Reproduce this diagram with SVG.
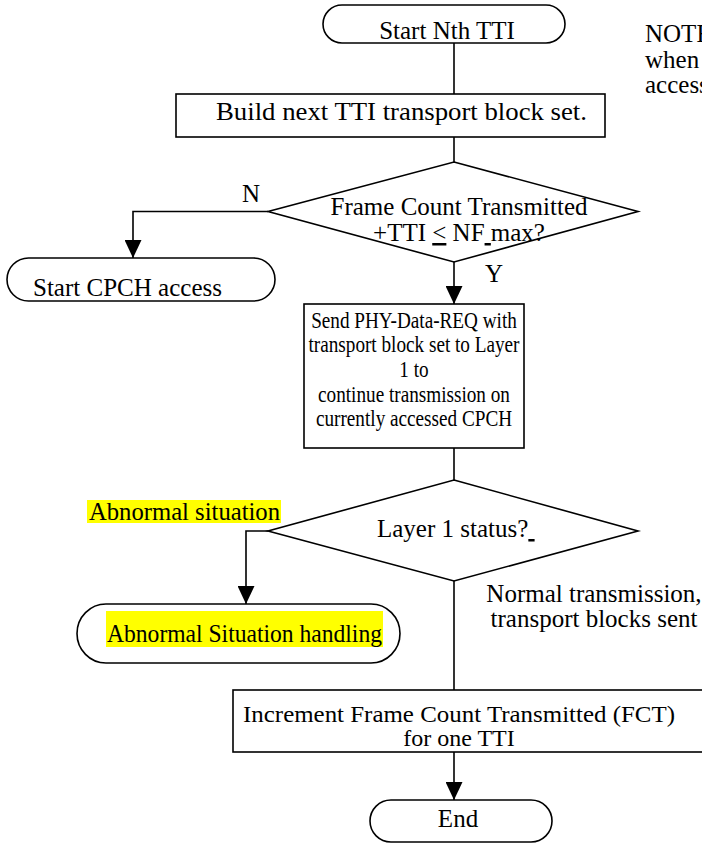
<svg xmlns="http://www.w3.org/2000/svg" width="702" height="843" viewBox="0 0 702 843">
<style>
text{font-family:"Liberation Serif","Times New Roman",serif;font-size:25px;fill:#000}
.shape{fill:#fff;stroke:#000;stroke-width:1.6}
.ln{fill:none;stroke:#000;stroke-width:1.6}
.hl{fill:#ffff00}
.u{text-decoration:underline}
.s24{font-size:24px}
</style>
<defs>
<marker id="arr" viewBox="0 0 18 17" refX="18" refY="8.5" markerWidth="18" markerHeight="17" orient="auto" markerUnits="userSpaceOnUse">
<path d="M0,0 L18,8.5 L0,17 Z" fill="#000"/>
</marker>
</defs>
<rect width="702" height="843" fill="#fff"/>
<g id="connectors">
<path class="ln" d="M454,43 V94"/>
<path class="ln" d="M454,137 V162"/>
<path class="ln" d="M268,211.5 H133 V258" marker-end="url(#arr)"/>
<path class="ln" d="M454,262 V304" marker-end="url(#arr)"/>
<path class="ln" d="M454,448 V480"/>
<path class="ln" d="M268,531 H246 V604" marker-end="url(#arr)"/>
<path class="ln" d="M454,581 V690"/>
<path class="ln" d="M454,752 V800" marker-end="url(#arr)"/>
<text x="242" y="202">N</text>
<text x="485" y="282">Y</text>
<rect class="hl" x="87" y="500" width="194" height="23"/>
<text x="89" y="520" textLength="191" lengthAdjust="spacingAndGlyphs">Abnormal situation</text>
<text x="594" y="602" text-anchor="middle">Normal transmission,</text>
<text x="594" y="627" text-anchor="middle">transport blocks sent</text>
</g>
<g id="start">
<rect class="shape" x="323" y="5" width="242" height="38" rx="19" ry="19"/>
<text x="447" y="39" text-anchor="middle">Start Nth TTI</text>
</g>
<g id="note">
<text x="645" y="42">NOTE</text>
<text x="645" y="68">when</text>
<text x="645" y="93">access</text>
</g>
<g id="build">
<rect class="shape" x="176" y="94" width="429" height="43"/>
<text x="216" y="120" textLength="371" lengthAdjust="spacingAndGlyphs">Build next TTI transport block set.</text>
</g>
<g id="decision1">
<polygon class="shape" points="454,162 638,211.5 454,262 268,211.5"/>
<text x="459" y="215" text-anchor="middle">Frame Count Transmitted</text>
<text x="459" y="241" text-anchor="middle">+TTI <tspan class="u">&lt;</tspan> NF<tspan class="u">&#160;</tspan>max?</text>
</g>
<g id="cpch">
<rect class="shape" x="7" y="258" width="268" height="43" rx="21.5" ry="21.5"/>
<text x="33" y="296" textLength="189" lengthAdjust="spacingAndGlyphs">Start CPCH access</text>
</g>
<g id="send">
<rect class="shape" x="304" y="304" width="220" height="144"/>
<g transform="translate(414,0) scale(0.8,1)">
<text class="s24" x="0" y="328" text-anchor="middle">Send PHY-Data-REQ with</text>
<text class="s24" x="0" y="352" text-anchor="middle">transport block set to Layer</text>
<text class="s24" x="0" y="377" text-anchor="middle">1 to</text>
<text class="s24" x="0" y="402" text-anchor="middle">continue transmission on</text>
<text class="s24" x="0" y="426" text-anchor="middle">currently accessed CPCH</text>
</g>
</g>
<g id="decision2">
<polygon class="shape" points="454,480 638,531 454,581 268,531"/>
<text x="377" y="537">Layer 1 status?<tspan class="u">&#160;</tspan></text>
</g>
<g id="abnormal">
<rect class="shape" x="77" y="604" width="323" height="59" rx="29" ry="29.5"/>
<rect class="hl" x="106" y="611" width="277" height="36"/>
<text x="107" y="642" textLength="275" lengthAdjust="spacingAndGlyphs">Abnormal Situation handling</text>
</g>
<g id="increment">
<rect class="shape" x="233" y="690" width="520" height="62"/>
<text class="s24" x="243" y="722" textLength="432" lengthAdjust="spacingAndGlyphs">Increment Frame Count Transmitted (FCT)</text>
<text class="s24" x="459" y="746" text-anchor="middle">for one TTI</text>
</g>
<g id="end">
<rect class="shape" x="370" y="800" width="182" height="42" rx="21" ry="21"/>
<text x="458" y="827" text-anchor="middle">End</text>
</g>
</svg>
